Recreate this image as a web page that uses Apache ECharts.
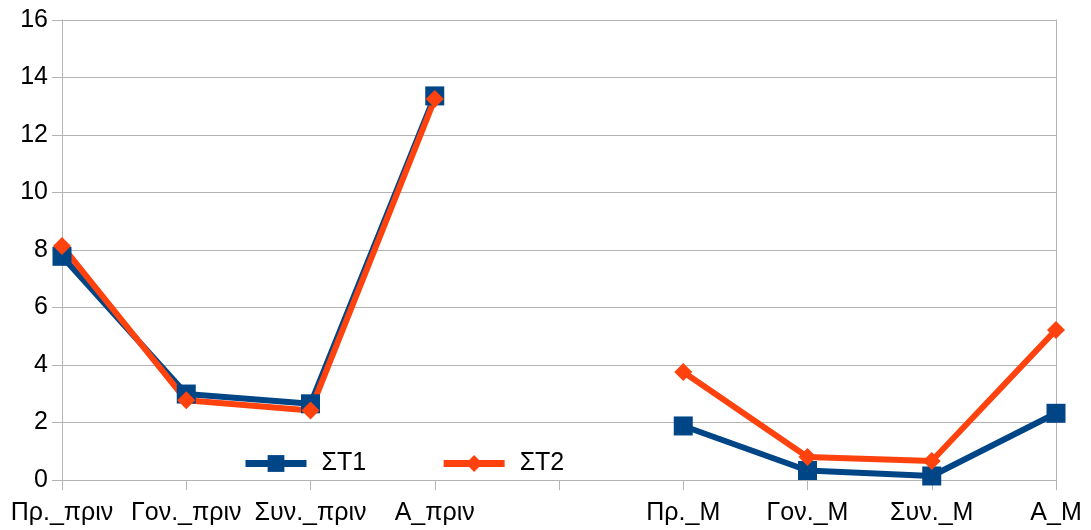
<!DOCTYPE html>
<html><head><meta charset="utf-8">
<script src="https://cdn.jsdelivr.net/npm/echarts@6/dist/echarts.min.js"></script>
<style>html,body{margin:0;padding:0;background:#fff}#c{width:1091px;height:530px}</style>
</head><body><div id="c"></div>
<script>
const categories = ['Πρ._πριν','Γον._πριν','Συν._πριν','Α_πριν','','Πρ._Μ','Γον._Μ','Συν._Μ','Α_Μ'];
const st1 = [7.78, 2.99, 2.65, 13.36, null, 1.88, 0.33, 0.14, 2.32];
const st2 = [8.14, 2.77, 2.42, 13.25, null, 3.76, 0.80, 0.66, 5.22];
const yTicks = [0, 2, 4, 6, 8, 10, 12, 14, 16];

const font = 'Liberation Sans, Arial, sans-serif';
const chart = echarts.init(document.getElementById('c'));
chart.setOption({
  animation: false,
  grid: {left: 62, right: 35, top: 20, bottom: 50},
  legend: {
    left: 237, top: 446, itemWidth: 61, itemHeight: 21, itemGap: 74,
    lineStyle: {width: 7},
    textStyle: {fontFamily: font, fontSize: 25, color: '#000', padding: [0, 0, 0, 10]},
    data: ['ΣΤ1', 'ΣΤ2']
  },
  xAxis: {
    type: 'category', data: categories, boundaryGap: false,
    axisLine: {lineStyle: {color: '#b3b3b3', width: 1}},
    axisTick: {show: true, length: 10, lineStyle: {color: '#b3b3b3'}},
    axisLabel: {fontFamily: font, fontSize: 25, color: '#000', margin: 21, interval: 0},
    splitLine: {show: false}
  },
  yAxis: [{
    type: 'value', min: yTicks[0], max: yTicks[yTicks.length - 1], interval: 2,
    axisLine: {show: true, lineStyle: {color: '#b3b3b3'}},
    axisTick: {show: true, length: 10, lineStyle: {color: '#b3b3b3'}},
    axisLabel: {fontFamily: font, fontSize: 25, color: '#000', margin: 14},
    splitLine: {lineStyle: {color: '#b3b3b3'}}
  }, {
    type: 'value', position: 'right', min: 0, max: 16, interval: 2,
    axisLine: {show: true, lineStyle: {color: '#b3b3b3'}},
    axisTick: {show: false}, axisLabel: {show: false}, splitLine: {show: false}
  }],
  series: [{
    name: 'ΣΤ1', type: 'line', data: st1, yAxisIndex: 0,
    symbol: 'rect', symbolSize: 19,
    lineStyle: {color: '#004586', width: 6},
    itemStyle: {color: '#004586'}
  }, {
    name: 'ΣΤ2', type: 'line', data: st2, yAxisIndex: 0,
    symbol: 'diamond', symbolSize: 18,
    lineStyle: {color: '#ff420e', width: 6},
    itemStyle: {color: '#ff420e'}
  }]
});
</script></body></html>
